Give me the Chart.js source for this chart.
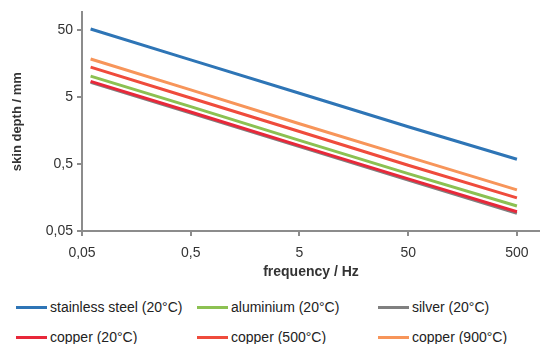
<!DOCTYPE html>
<html>
<head>
<meta charset="utf-8">
<script src="https://cdn.jsdelivr.net/npm/chart.js@4.4.1/dist/chart.umd.min.js"></script>
<style>
  html, body { margin: 0; padding: 0; background: #fff; }
  body { width: 540px; height: 344px; position: relative; overflow: hidden; font-family: "Liberation Sans", Arial, sans-serif; }
  #wrap { position: absolute; left: 0; top: 0; width: 540px; height: 290px; }
  .legend { position: absolute; left: 0; top: 290px; width: 540px; height: 54px; font-size: 14px; color: #222; }
  .item { position: absolute; display: flex; align-items: center; white-space: nowrap; }
  .item span.sw { display: inline-block; width: 31px; height: 3px; margin-right: 3px; }
</style>
</head>
<body>
<div id="wrap"><canvas id="chart"></canvas></div>
<div class="legend" id="legend"></div>
<script>
// frequency in Hz
const freqs = [0.06, 0.5, 5, 50, 500];

// skin depth in mm
const stainlessSteel = [52, 18, 5.7, 1.8, 0.59];
const aluminium = [10.3, 3.6, 1.13, 0.36, 0.118];
const silver = [8.3, 2.88, 0.91, 0.288, 0.092];
const copper20 = [8.6, 3.0, 0.94, 0.30, 0.097];
const copper500 = [14, 4.85, 1.53, 0.48, 0.156];
const copper900 = [18.5, 6.4, 2.0, 0.64, 0.206];

const xTicks = [0.05, 0.5, 5, 50, 500];
const yTicks = [0.05, 0.5, 5, 50];

const series = [
    { label: 'stainless steel (20°C)', data: stainlessSteel, color: '#2e75b6' },
    { label: 'aluminium (20°C)', data: aluminium, color: '#8cc152' },
    { label: 'silver (20°C)', data: silver, color: '#808080' },
    { label: 'copper (20°C)', data: copper20, color: '#e8283a' },
    { label: 'copper (500°C)', data: copper500, color: '#ef4b3c' },
    { label: 'copper (900°C)', data: copper900, color: '#f7955a' }
];

// draw order: copper 20 on top of silver
const drawOrder = [0, 5, 4, 1, 3, 2];

const fmt = (v) => String(v).replace('.', ',');
const axisColor = '#8c8c8c';

const datasets = series.map((s, i) => ({
    label: s.label,
    data: freqs.map((f, j) => ({ x: f, y: s.data[j] })),
    borderColor: s.color,
    backgroundColor: s.color,
    borderWidth: 3,
    pointRadius: 0,
    tension: 0,
    order: drawOrder[i]
}));

const ctx = document.querySelector('#chart');
new Chart(ctx, {
    type: 'line',
    data: { datasets: datasets },
    options: {
        responsive: true,
        maintainAspectRatio: false,
        animation: false,
        layout: { padding: { top: 12, right: 0, left: 10, bottom: 0 } },
        plugins: { legend: { display: false }, tooltip: { enabled: false } },
        scales: {
            x: {
                type: 'logarithmic',
                min: 0.05,
                max: 815,
                afterBuildTicks: (scale) => { scale.ticks = xTicks.map(v => ({ value: v })); },
                afterFit: (scale) => { scale.height = 59; },
                ticks: {
                    color: '#333',
                    font: { size: 14, family: 'Liberation Sans' },
                    padding: 9,
                    maxRotation: 0,
                    callback: (v) => fmt(v)
                },
                grid: { drawOnChartArea: false, drawTicks: true, tickLength: 5, color: axisColor, lineWidth: 2 },
                border: { color: axisColor, width: 2 },
                title: {
                    display: true,
                    text: 'frequency / Hz',
                    color: '#333',
                    font: { size: 14, weight: 'bold', family: 'Liberation Sans' },
                    padding: { top: 0, bottom: 9 }
                }
            },
            y: {
                type: 'logarithmic',
                min: 0.05,
                max: 92,
                afterBuildTicks: (scale) => { scale.ticks = yTicks.map(v => ({ value: v })); },
                afterFit: (scale) => { scale.width = 72; },
                ticks: {
                    color: '#333',
                    font: { size: 14, family: 'Liberation Sans' },
                    padding: 4,
                    callback: (v) => fmt(v)
                },
                grid: { drawOnChartArea: false, drawTicks: true, tickLength: 5, color: axisColor, lineWidth: 2 },
                border: { color: axisColor, width: 2 },
                title: {
                    display: true,
                    text: 'skin depth / mm',
                    color: '#333',
                    font: { size: 13, weight: 'bold', family: 'Liberation Sans' },
                    padding: { top: 0, bottom: 4 }
                }
            }
        }
    }
});

// legend, 3 columns x 2 rows
const legendRoot = document.querySelector('#legend');
const colX = [16, 197, 378];
const rowY = [9, 39];
series.forEach((s, i) => {
    const el = document.createElement('div');
    el.className = 'item';
    el.style.left = colX[i % 3] + 'px';
    el.style.top = rowY[Math.floor(i / 3)] + 'px';
    el.innerHTML = `<span class="sw" style="background:${s.color}"></span>${s.label}`;
    legendRoot.appendChild(el);
});
</script>
</body>
</html>
